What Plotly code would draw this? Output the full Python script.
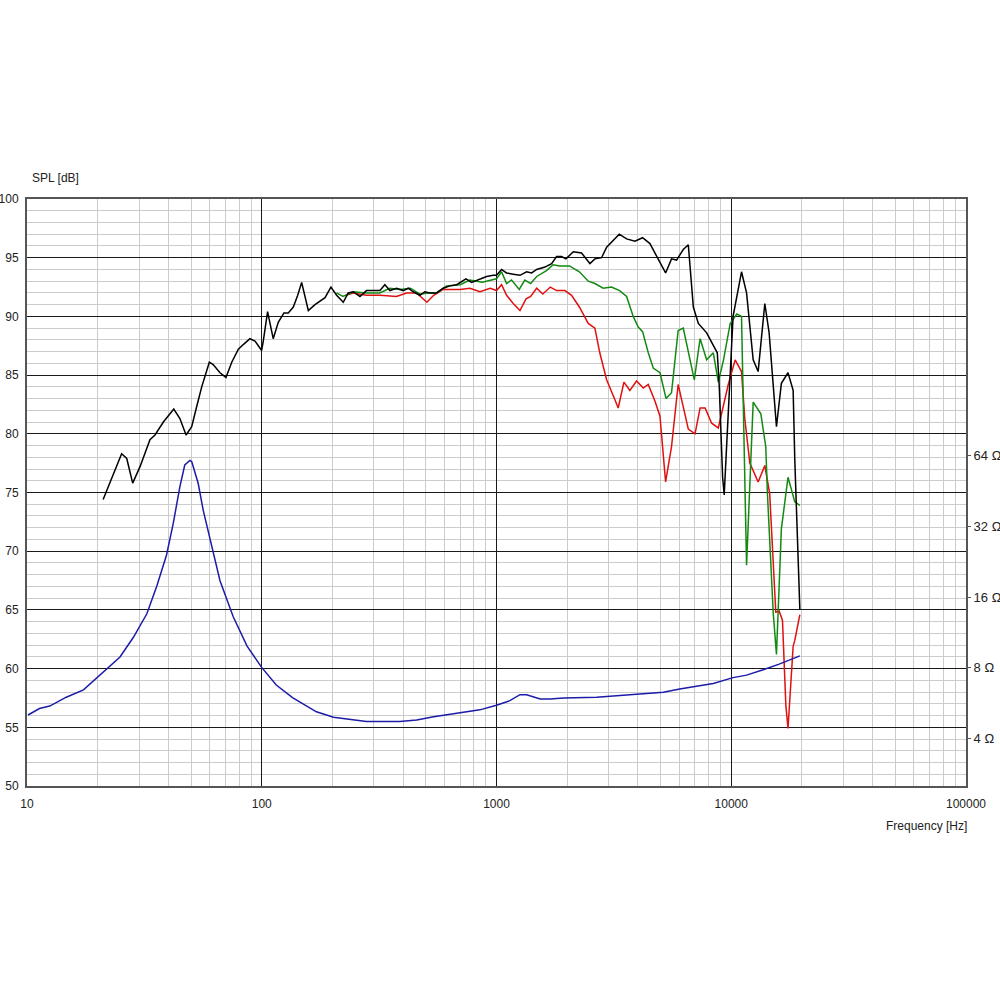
import plotly.graph_objects as go

# ---- SPL black (on-axis) ----
f_black = [21.1, 25.3, 26.6, 28.2, 30.3, 33.4, 35.1, 38.1, 42.2, 44.8, 47.6, 50.3, 52.8, 55.5, 59.8, 62.1,
           66.4, 70.4, 74.5, 79.5, 83.4, 89.1, 93.6, 99.9, 101.5, 105.9, 111.9, 117.6, 124.3, 129.7, 136.3,
           142.3, 147.9, 157.9, 168.6, 177.1, 186.0, 197.1, 208.4, 222.4, 233.6, 245.3, 262, 279.5, 298.3,
           318.6, 334.7, 351.6, 375.3, 400.6, 420.8, 441.9, 471.7, 495.5, 520.5, 555.5, 593, 633.4, 676.7,
           741, 783.7, 836.4, 907, 968.9, 1000, 1051, 1104, 1178, 1259, 1343, 1412, 1483, 1608, 1717, 1803,
           1893, 1975, 2124, 2303, 2500, 2625, 2803, 2945, 3334, 3583, 3888, 4191, 4504, 4812, 5252, 5566,
           5850, 6246, 6563, 6893, 7241, 7856, 8385, 8720, 8893, 9188, 9332, 9710, 10180, 11060, 11620,
           12400, 13020, 13900, 14500, 15580, 16350, 17450, 18350, 18650, 19600]
spl_black = [74.4, 78.3, 77.9, 75.8, 77.2, 79.5, 79.9, 81.0, 82.1, 81.3, 79.9, 80.6, 82.3, 84.0, 86.1, 85.9,
             85.2, 84.8, 86.1, 87.2, 87.6, 88.1, 87.9, 87.1, 87.9, 90.4, 88.1, 89.5, 90.3, 90.3, 90.8,
             91.8, 92.9, 90.5, 91.0, 91.3, 91.6, 92.5, 91.8, 91.2, 92.0, 92.1, 91.7, 92.2, 92.2,
             92.2, 92.7, 92.2, 92.4, 92.2, 92.4, 92.1, 91.8, 92.1, 92.0, 92.0, 92.4, 92.6, 92.7,
             93.2, 92.9, 93.1, 93.4, 93.5, 93.5, 94.0, 93.7, 93.6, 93.5, 93.8, 93.7, 94.0, 94.2, 94.5, 95.1,
             95.1, 94.9, 95.5, 95.4, 94.5, 94.9, 95.0, 95.9, 97.0, 96.6, 96.4, 96.7, 96.2, 95.1, 93.7, 94.9,
             94.8, 95.7, 96.1, 90.8, 89.4, 88.6, 87.6, 86.9, 84.0, 76.3, 74.8, 81.7, 90.0, 93.8, 92.0,
             86.3, 85.3, 91.1, 88.6, 80.6, 84.3, 85.2, 83.7, 77.8, 65.0]

# ---- SPL green (off-axis 1) ----
f_green = [208, 222, 245, 279, 318, 351, 388, 430, 472, 520, 555, 613, 700, 770, 870, 1000, 1051, 1104,
           1159, 1250, 1320, 1398, 1483, 1633, 1741, 1858, 2045, 2254, 2460, 2625, 2847, 3086, 3346, 3583,
           3823, 4015, 4191, 4431, 4653, 4970, 5277, 5566, 5940, 6246, 6960, 7369, 7856, 8385, 8808, 9270,
           9898, 10560, 11060, 11620, 12400, 13370, 14030, 14260, 15100, 15580, 16350, 17450, 18650, 19600]
spl_green = [92.0, 91.7, 92.1, 92.0, 92.0, 92.4, 92.3, 92.4, 91.9, 92.0, 92.0, 92.6, 92.7, 93.1, 92.9, 93.2,
             93.8, 92.8, 93.1, 92.3, 93.1, 92.8, 93.4, 93.9, 94.4, 94.3, 94.3, 93.8, 93.0, 92.8, 92.4, 92.5,
             92.2, 91.7, 90.0, 89.1, 88.7, 86.9, 85.6, 85.2, 83.0, 83.5, 88.8, 89.0, 84.6, 88.1, 86.3, 86.9,
             84.4, 86.3, 89.4, 90.2, 90.0, 68.8, 82.7, 81.7, 78.9, 74.9, 64.7, 61.2, 71.9, 76.3, 74.2, 73.9]

# ---- SPL red (off-axis 2) ----
f_red = [228, 245, 279, 319, 375, 414, 457, 505, 540, 593, 700, 770, 850, 940, 1000, 1051, 1104, 1178,
         1259, 1336, 1398, 1483, 1575, 1695, 1803, 1955, 2088, 2254, 2460, 2625, 2754, 2945, 3150, 3300,
         3490, 3700, 3950, 4220, 4430, 4730, 4970, 5252, 5566, 5940, 6246, 6563, 7010, 7369, 7740, 8250,
         8808, 9270, 9710, 10390, 11060, 11430, 12000, 13020, 13900, 14580, 15070, 15480, 16000, 16530,
         17090, 17450, 18350, 18650, 19600]
spl_red = [91.8, 92.0, 91.8, 91.8, 91.7, 92.0, 92.0, 91.2, 91.8, 92.3, 92.3, 92.4, 92.1, 92.4, 92.2, 92.7,
           91.8, 91.1, 90.5, 91.5, 91.7, 92.4, 91.9, 92.5, 92.2, 92.2, 91.8, 90.8, 89.4, 89.0, 86.9, 84.6,
           83.2, 82.2, 84.4, 83.7, 84.5, 83.9, 84.2, 82.8, 81.5, 75.9, 78.9, 84.2, 82.3, 80.4, 80.0, 82.2,
           82.2, 80.9, 80.5, 82.4, 84.2, 86.3, 85.3, 81.2, 77.5, 75.9, 77.3, 74.9, 69.5, 64.8, 64.9, 64.1,
           56.8, 54.9, 61.9, 62.4, 64.6]

# ---- Impedance (ohm) ----
f_imp = [10.1, 11.3, 12.5, 14.7, 17.4, 20.5, 24.9, 28.4, 32.4, 35.7, 39.3, 42.0, 44.8, 47.0, 49.4, 50.3,
         53.6, 56.3, 60.2, 66.4, 75.6, 86.6, 99.9, 115.3, 135.7, 171, 202, 279, 387, 457, 540, 747, 849,
         1000, 1140, 1259, 1343, 1536, 1695, 1930, 2670, 3700, 5140, 6030, 8385, 10180, 11620, 13680,
         16000, 19600]
z_imp = [5.04, 5.37, 5.5, 6.0, 6.45, 7.5, 8.9, 10.8, 13.6, 17.8, 24.2, 33.1, 47.3, 58.5, 61.2, 60.5,
         48.9, 37.6, 28.2, 18.8, 13.2, 9.9, 8.04, 6.76, 5.96, 5.2, 4.93, 4.73, 4.73, 4.8, 4.95, 5.2, 5.3,
         5.55, 5.8, 6.15, 6.15, 5.9, 5.9, 5.96, 6.0, 6.15, 6.3, 6.5, 6.87, 7.27, 7.45, 7.85, 8.3, 9.0]

x_tickvals = [10, 100, 1000, 10000, 100000]
x_ticktext = ["10", "100", "1000", "10000", "100000"]
y_tickvals = [50, 55, 60, 65, 70, 75, 80, 85, 90, 95, 100]
z_tickvals = [4, 8, 16, 32, 64]
z_ticktext = ["4 Ω", "8 Ω", "16 Ω", "32 Ω", "64 Ω"]

FONT = "Arial, Liberation Sans, sans-serif"
LW = 1.5

fig = go.Figure()
fig.add_trace(go.Scatter(x=f_imp, y=z_imp, mode="lines", yaxis="y2",
                         line=dict(color="#1c1ca8", width=LW), hoverinfo="skip"))
fig.add_trace(go.Scatter(x=f_red, y=spl_red, mode="lines",
                         line=dict(color="#e01010", width=LW), hoverinfo="skip"))
fig.add_trace(go.Scatter(x=f_green, y=spl_green, mode="lines",
                         line=dict(color="#128a12", width=LW), hoverinfo="skip"))
fig.add_trace(go.Scatter(x=f_black, y=spl_black, mode="lines",
                         line=dict(color="#000000", width=LW), hoverinfo="skip"))

fig.update_layout(
    width=1000, height=1000,
    margin=dict(l=27, r=34, t=199, b=214),
    paper_bgcolor="white", plot_bgcolor="white",
    showlegend=False,
    font=dict(family=FONT, size=12, color="#222"),
    xaxis=dict(type="log", range=[1, 5], tickvals=x_tickvals, ticktext=x_ticktext,
               showgrid=True, gridcolor="#1a1a1a", gridwidth=1, automargin=False,
               minor=dict(dtick="D1", showgrid=True, gridcolor="#cccccc", gridwidth=1, ticks=""),
               showline=True, linecolor="#555", linewidth=2, mirror=True,
               ticks="", zeroline=False, ticklabelstandoff=6),
    yaxis=dict(range=[50, 100], tickvals=y_tickvals, automargin=False,
               showgrid=True, gridcolor="#1a1a1a", gridwidth=1,
               minor=dict(dtick=1, showgrid=True, gridcolor="#cccccc", gridwidth=1, ticks=""),
               showline=True, linecolor="#555", linewidth=2, mirror=True,
               ticks="", zeroline=False, ticklabelstandoff=4),
    yaxis2=dict(type="log", range=[0.4, 2.9], overlaying="y", side="right", automargin=False,
                tickvals=z_tickvals, ticktext=z_ticktext, showgrid=False, zeroline=False,
                ticks="outside", ticklen=4, tickcolor="#555", showline=False,
                tickfont=dict(size=13)),
    annotations=[
        dict(text="SPL [dB]", xref="paper", yref="paper", x=0.003, y=1.036,
             xanchor="left", yanchor="middle", showarrow=False, font=dict(size=12)),
        dict(text="Frequency [Hz]", xref="paper", yref="paper", x=1.003, y=-0.068,
             xanchor="right", yanchor="middle", showarrow=False, font=dict(size=12)),
    ],
)

fig.write_html("out.html", config={"displayModeBar": False},
               post_script="document.body.style.margin='0';")
